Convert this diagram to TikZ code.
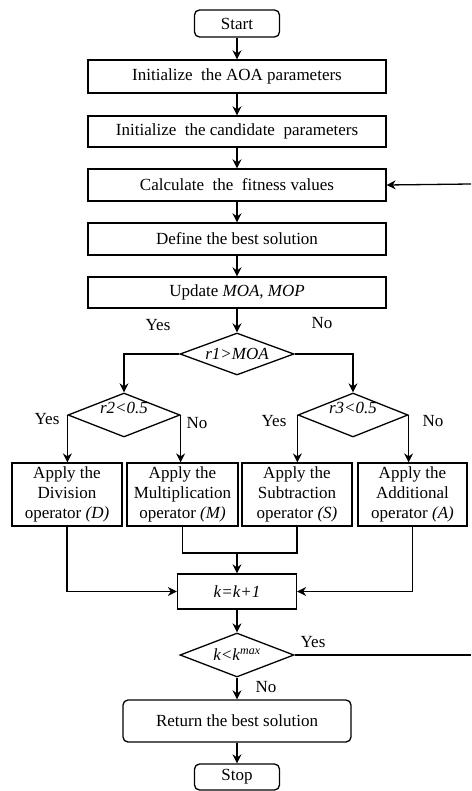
\documentclass[tikz,border=0pt]{standalone}
\usepackage{fontspec}
\setmainfont{Liberation Serif}
\usetikzlibrary{shapes.geometric,arrows.meta,calc}
\begin{document}
\begin{tikzpicture}[x=1pt,y=-1pt,
  every node/.style={font=\fontsize{17}{20}\selectfont},
  box/.style={draw,line width=1.3pt,inner sep=0pt,align=center},
  rbox/.style={box,rounded corners=5pt},
  dec/.style={draw,diamond,line width=1.3pt,inner sep=0pt,aspect=2.6},
  lbl/.style={inner sep=0pt},
  arr/.style={-{Stealth[length=9pt,width=9pt,inset=3pt]},line width=1.3pt},
  ln/.style={line width=1.3pt}]
\useasboundingbox (0,0) rectangle (471,791);
% main column
\node[rbox,minimum width=85pt,minimum height=27pt] (start) at (237,23.5) {Start};
\node[box,minimum width=298pt,minimum height=33pt] (b1) at (237,76.5) {Initialize\ \ the AOA parameters};
\node[box,minimum width=298pt,minimum height=31pt] (b2) at (237,131.5) {Initialize\ \ the candidate\ \ parameters};
\node[box,minimum width=298pt,minimum height=32pt] (b3) at (237,185) {Calculate\ \ the\ \ fitness values};
\node[box,minimum width=298pt,minimum height=32pt] (b4) at (237,239) {Define the best solution};
\node[box,minimum width=298pt,minimum height=31pt] (b5) at (237,292.5) {Update \textit{MOA, MOP}};
\node[dec,minimum width=114pt,minimum height=42pt] (d1) at (237,354) {\textit{r1>MOA}};
\node[dec,minimum width=112pt,minimum height=44pt] (d2) at (124,415) {};
\node[lbl] (t2) at (124,408) {\textit{r2<0.5}};
\node[dec,minimum width=110pt,minimum height=44pt] (d3) at (353,415) {};
\node[lbl] (t3) at (353,408) {\textit{r3<0.5}};
% operator boxes
\node[box,minimum width=110pt,minimum height=63pt] (D) at (67,494.5) {Apply the\\Division\\operator \textit{(D)}};
\node[box,minimum width=111pt,minimum height=63pt] (M) at (182.5,494.5) {Apply the\\Multiplication\\operator \textit{(M)}};
\node[box,minimum width=110pt,minimum height=63pt] (S) at (297,494.5) {Apply the\\Subtraction\\operator \textit{(S)}};
\node[box,minimum width=109pt,minimum height=63pt] (A) at (412.5,494.5) {Apply the\\Additional\\operator \textit{(A)}};
\node[box,minimum width=119pt,minimum height=35pt] (k) at (237,591.5) {\textit{k=k+1}};
\node[dec,minimum width=114pt,minimum height=44pt] (d4) at (237,655) {\textit{k<k}\textsuperscript{\textit{max}}};
\node[rbox,minimum width=228pt,minimum height=42pt] (ret) at (237,721) {Return the best solution};
\node[rbox,minimum width=85pt,minimum height=26pt] (stop) at (237,777) {Stop};
% labels
\node[lbl] (y1) at (158,325) {Yes};
\node[lbl] (n1) at (322,323) {No};
\node[lbl] (y2) at (47,419) {Yes};
\node[lbl] (n2) at (197,423) {No};
\node[lbl] (y3) at (274,421) {Yes};
\node[lbl] (n3) at (433,421) {No};
\node[lbl] (y4) at (313,642) {Yes};
\node[lbl] (n4) at (266,687) {No};
% coordinates
\coordinate (e1) at (471,655);
\coordinate (e2) at (471,184);
\coordinate (j) at (237,553);
% connectors
\draw[arr] (start) -- (b1);
\draw[arr] (b1) -- (b2);
\draw[arr] (b2) -- (b3);
\draw[arr] (b3) -- (b4);
\draw[arr] (b4) -- (b5);
\draw[arr] (b5) -- (d1);
\draw[arr] (d1.west) -| (d2.north);
\draw[arr] (d1.east) -| (d3.north);
\draw[arr] (d2.west) -- (d2.west |- D.north);
\draw[arr] (d2.east) -- (d2.east |- M.north);
\draw[arr] (d3.west) -- (d3.west |- S.north);
\draw[arr] (d3.east) -- (d3.east |- A.north);
\draw[arr] (D.south) |- (k.west);
\draw[arr] (A.south) |- (k.east);
\draw[ln] (M.south) |- (j) -| (S.south);
\draw[arr] (j) -- (k.north);
\draw[arr] (k) -- (d4);
\draw[arr] (d4) -- (ret);
\draw[arr] (ret) -- (stop);
\draw[ln] (d4.east) -- (e1);
\draw[arr] (e2) -- (b3.east);
\end{tikzpicture}
\end{document}
